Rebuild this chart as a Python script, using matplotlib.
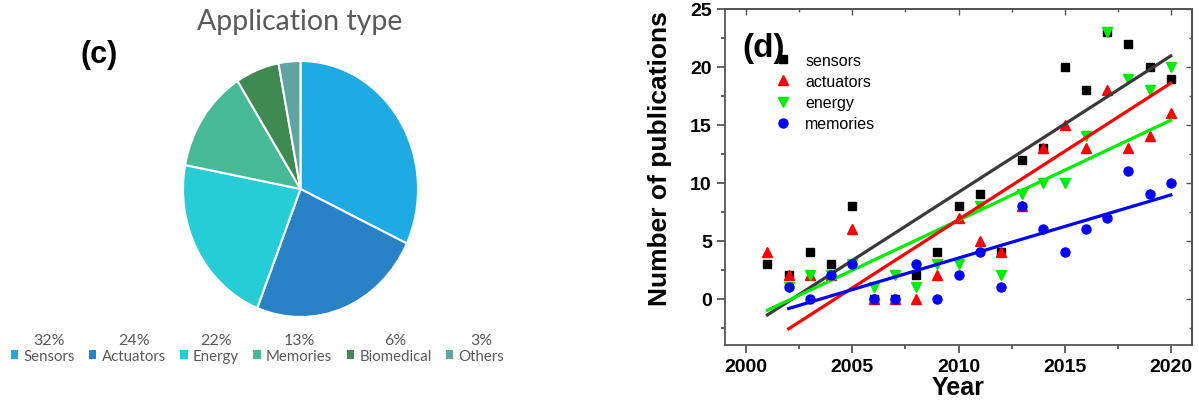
import numpy as np
import matplotlib
matplotlib.use('Agg')
import matplotlib.pyplot as plt
from matplotlib.patches import Patch
from matplotlib.lines import Line2D
from matplotlib.ticker import MultipleLocator

plt.rcParams['font.family'] = ['Liberation Sans', 'DejaVu Sans']

# (c) application type shares, %
app_types = ['Sensors', 'Actuators', 'Energy', 'Memories', 'Biomedical', 'Others']
app_share = [32, 24, 22, 13, 6, 3]
app_colors = ['#1eabe3', '#2a82c6', '#27cdd6', '#46b996', '#3f8952', '#5fa4a2']

# (d) publications per year
years = list(range(2001, 2021))
sensors = [3, 2, 4, 3, 8, 0, 0, 2, 4, 8, 9, 4, 12, 13, 20, 18, 23, 22, 20, 19]
actuators = [4, 2, 2, 2, 6, 0, 0, 0, 2, 7, 5, 4, 8, 13, 15, 13, 18, 13, 14, 16]
years_b = list(range(2002, 2021))
energy = [1, 2, 2, 3, 1, 2, 1, 3, 3, 8, 2, 9, 10, 10, 14, 23, 19, 18, 20]
memories = [1, 0, 2, 3, 0, 0, 3, 0, 2, 4, 1, 8, 6, 4, 6, 7, 11, 9, 10]

# linear trend lines: (start year, end year), (start value, end value)
trend_black = ([2001, 2020], [-1.4, 20.95])
trend_green = ([2001, 2020], [-1.0, 15.4])
trend_red = ([2002, 2020], [-2.6, 18.6])
trend_blue = ([2002, 2020], [-0.85, 8.95])

W, H = 1199, 402
fig = plt.figure(figsize=(W / 100, H / 100), dpi=100)

# ---------- pie ----------
gray = '#595959'
ax1 = fig.add_axes([183 / W, 1 - 318 / H, 235 / W, 256 / H])
wedges, _ = ax1.pie(app_share, colors=app_colors, startangle=90, counterclock=False,
                    wedgeprops=dict(edgecolor='white', linewidth=1.5))
ax1.set_aspect('auto')
ax1.set_xlim(-1, 1)
ax1.set_ylim(-1, 1)

fig.text(300 / W, 1 - 22 / H, 'Application type', ha='center', va='center',
         fontsize=20.5, color=gray, family='Lato')
fig.text(99 / W, 1 - 55 / H, '(c)', ha='center', va='center',
         fontsize=22, fontweight='bold')

handles = [Patch(facecolor=c, edgecolor='none') for c in app_colors]
leg1 = fig.legend(handles, app_types, loc='center left',
                  bbox_to_anchor=(3 / W, 1 - 357 / H), ncol=6, frameon=False,
                  labelcolor=gray, handlelength=0.5, handleheight=0.5,
                  handletextpad=0.35, columnspacing=0.95, borderpad=0,
                  prop={'family': 'Lato', 'size': 10.8})

fig.canvas.draw()
for txt, share in zip(leg1.get_texts(), app_share):
    bb = txt.get_window_extent()
    fig.text((bb.x0 + bb.x1) / 2 / W, (bb.y1 + 2) / H, f'{share}%',
             ha='center', va='bottom', fontsize=11.5, color=gray, family='Lato')

# ---------- scatter with trends ----------
ax2 = fig.add_axes([725 / W, 1 - 346 / H, 467 / W, 336 / H])
ax2.plot(years, sensors, 's', color='black', ms=5.5, ls='none')
ax2.plot(years, actuators, '^', color='red', ms=7, ls='none')
ax2.plot(years_b, energy, 'v', color='#00ee00', ms=7, ls='none')
ax2.plot(*trend_black, color='#3a3a3a', lw=2.3)
ax2.plot(*trend_green, color='#00ee00', lw=2.3)
ax2.plot(*trend_red, color='red', lw=2.3)
ax2.plot(*trend_blue, color='blue', lw=2.3)
ax2.plot(years_b, memories, 'o', color='blue', ms=6.5, ls='none')

ax2.set_xlim(1999, 2021)
ax2.set_ylim(-4, 25)
ax2.set_xticks(range(2000, 2021, 5))
ax2.set_yticks(range(0, 26, 5))
ax2.xaxis.set_minor_locator(MultipleLocator(2.5))
ax2.yaxis.set_minor_locator(MultipleLocator(2.5))
ax2.tick_params(which='both', direction='out', width=1.3, color='#555555',
                labelsize=14, top=False, right=False)
ax2.tick_params(which='major', length=6)
ax2.tick_params(which='minor', length=3)
for lab in ax2.get_xticklabels() + ax2.get_yticklabels():
    lab.set_fontweight('bold')
for sp in ax2.spines.values():
    sp.set_color('#555555')
    sp.set_linewidth(1.3)

for side in ('top', 'right'):
    if side == 'top':
        sec = ax2.secondary_xaxis('top')
        sec.set_xticks(range(2000, 2021, 5))
        sec.xaxis.set_minor_locator(MultipleLocator(2.5))
        sec.tick_params(which='both', direction='in', labeltop=False,
                        width=1.0, color='#555555')
    else:
        sec = ax2.secondary_yaxis('right')
        sec.set_yticks(range(0, 26, 5))
        sec.yaxis.set_minor_locator(MultipleLocator(2.5))
        sec.tick_params(which='both', direction='in', labelright=False,
                        width=1.0, color='#555555')
    sec.tick_params(which='major', length=4)
    sec.tick_params(which='minor', length=2)
    sec.spines[side].set_color('#555555')
    sec.spines[side].set_linewidth(1.3)

ax2.set_ylabel('Number of publications', fontsize=19, fontweight='bold', va='center')
ax2.yaxis.set_label_coords(-0.139, 0.557)
ax2.set_xlabel('Year', fontsize=18, fontweight='bold', va='center')
ax2.xaxis.set_label_coords(0.5, -0.125)

ax2.text(0.038, 0.885, '(d)', transform=ax2.transAxes, ha='left', va='center',
         fontsize=24, fontweight='bold')

leg_handles = [
    Line2D([], [], marker='s', color='black', ms=5.5, ls='none'),
    Line2D([], [], marker='^', color='red', ms=7, ls='none'),
    Line2D([], [], marker='v', color='#00ee00', ms=7, ls='none'),
    Line2D([], [], marker='o', color='blue', ms=6.5, ls='none'),
]
ax2.legend(leg_handles, ['sensors', 'actuators', 'energy', 'memories'],
           loc='upper left', bbox_to_anchor=((775 - 725) / 467, (346 - 54) / 336),
           frameon=False, fontsize=11.5, handlelength=1.0, handletextpad=0.9,
           labelspacing=0.38, borderpad=0, borderaxespad=0)

fig.savefig('out.png', dpi=100)
